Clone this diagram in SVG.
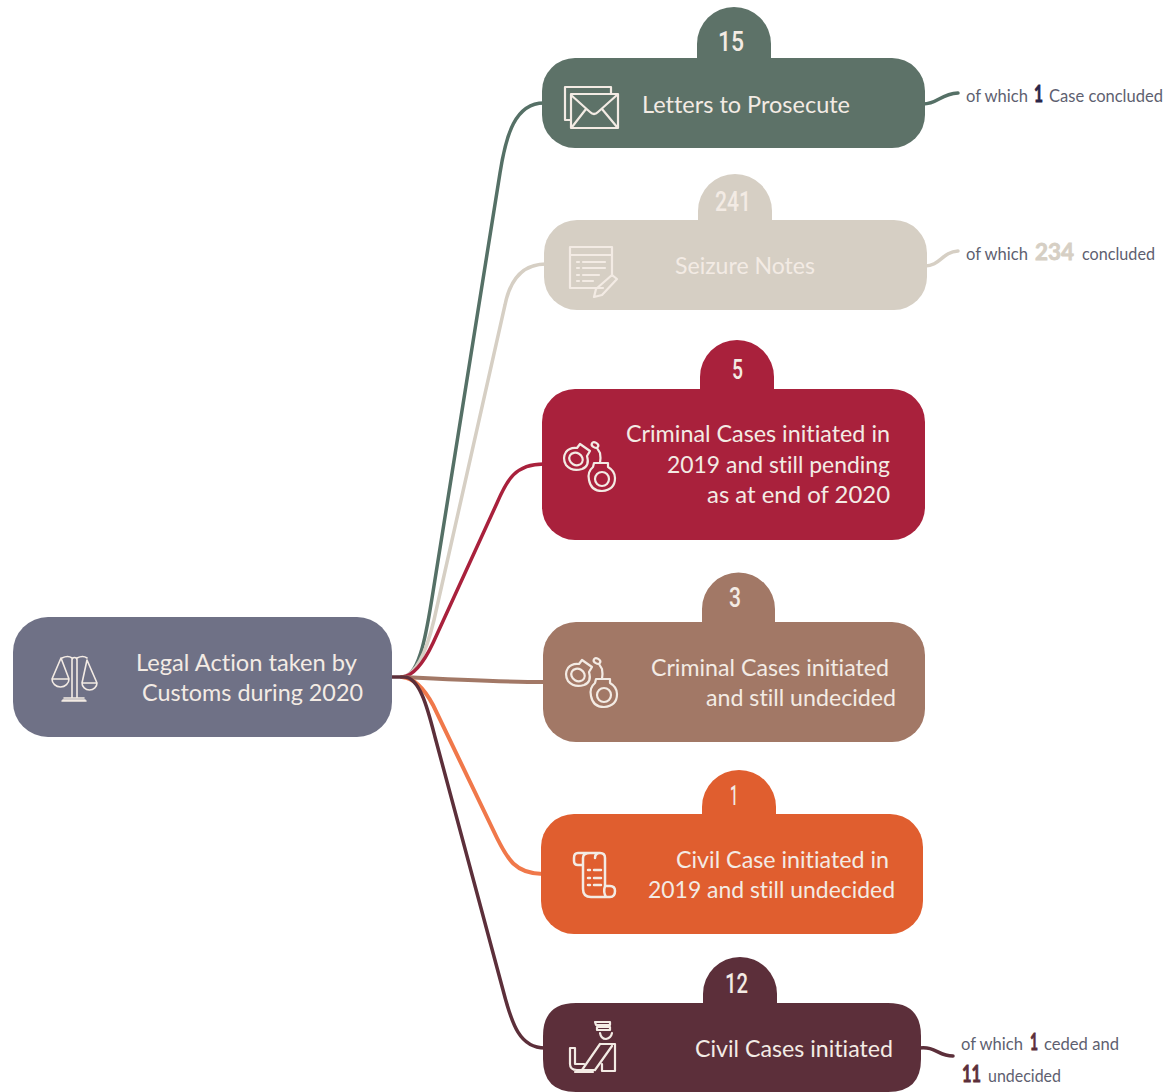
<svg xmlns="http://www.w3.org/2000/svg" xmlns:xlink="http://www.w3.org/1999/xlink" width="1168" height="1092" viewBox="0 0 1168 1092">
<style>
text{font-variant-ligatures:none}
.l{font-family:"Lato","Noto Sans",sans-serif;font-size:23px;fill:#f3ebe4}
.n{font-family:"Roboto","Liberation Sans",sans-serif;font-size:28px;font-weight:500;fill:#f3ebe4}
.s{font-family:"Lato","Noto Sans",sans-serif;font-size:17px;fill:#5e5f70}
.b{font-family:"Lato","Noto Sans",sans-serif;font-size:22px;font-weight:700;fill:#2a2548;stroke:#2a2548;stroke-width:.8}
.i{fill:none;stroke:#f3ebe4;stroke-width:2.2;stroke-linejoin:round;stroke-linecap:round}
.c{fill:none;stroke-width:3.5;stroke-linecap:round}
</style>
<defs>
<g id="cuffs">
<path d="M566 452Q570 447 577 448L580 444L590 451L587 456Q590 466 582 469Q572 472 566 465Q562 458 566 452Z"/>
<ellipse cx="576" cy="459" rx="7" ry="6" transform="rotate(30 576 459)"/>
<ellipse cx="595" cy="445" rx="3.500" ry="2.500" transform="rotate(30 595 445)"/>
<path d="M597 448L600 453Q601 458 600 463"/>
<path d="M594 463L593 467Q587 472 589 480Q591 491 602 491Q615 490 615 478Q615 471 608 467L608 463Z"/>
<circle cx="602" cy="479" r="7"/>
</g>
</defs>
<rect width="1168" height="1092" fill="#fff"/>
<g id="connectors">
<path class="c" stroke="#557066" d="M404 677C420 674 427 630 433 592L500 173C506 135 515 103 544 103"/>
<path class="c" stroke="#d6cfc4" d="M402 677C418 675 428 645 434 620L505 305C510 280 522 264 546 264"/>
<path class="c" stroke="#a9213c" d="M402 677C415 676 425 660 433 643L497 503C507 480 515 464 544 464"/>
<path class="c" stroke="#a27866" style="stroke-width:4" d="M402 677C440 679 500 682 545 682"/>
<path class="c" stroke="#f0784a" style="stroke-width:4" d="M402 677C415 678 425 690 433 705L497 838C507 858 515 874 543 874"/>
<path class="c" stroke="#5c2f3a" d="M390 677H404C420 677 428 710 435 737L503 990C512 1025 520 1048 545 1048"/>
<path class="c" stroke="#557066" d="M923 104C938 104 940 94 958 93"/>
<path class="c" stroke="#d6cfc4" d="M925 266C940 266 942 252 958 251"/>
<path class="c" stroke="#5c2f3a" d="M919 1048C936 1046 938 1056 953 1056"/>
</g>
<g id="root">
<rect x="13" y="617" width="379" height="120" rx="35" fill="#6f7186"/>
<g class="i" style="stroke-width:1.6">
<path d="M72 697V660a2.500 2.500 0 0 1 5 0V697M62 701h24M64 698h20M63 700h22"/>
<path d="M62 658q6-3 10 0M77 658q6-3 10 0"/>
<path d="M61 658L52 679M61 658L69 679M52 679h17a8.500 8 0 0 1-17 0"/>
<path d="M87 660L82 683M87 660L97 683M82 683h15a7.500 7 0 0 1-15 0"/>
</g>
<text class="l" x="136" y="671" textLength="221" lengthAdjust="spacingAndGlyphs">Legal Action taken by</text>
<text class="l" x="142" y="701" textLength="221" lengthAdjust="spacingAndGlyphs">Customs during 2020</text>
</g>
<g id="node-letters" fill="#5d7268">
<path d="M697 60V44A37 37 0 0 1 771 44V60Z"/>
<rect x="542" y="58" width="383" height="90" rx="33"/>
<text class="n" x="718" y="51" textLength="26" lengthAdjust="spacingAndGlyphs">15</text>
<g class="i"><path d="M571 120H565V87H611V94"/><rect x="571" y="94" width="47" height="34"/><path d="M571 95L590 112Q594 116 598 112L617 95M572 127L586 109M617 127L602 109"/></g>
<text class="l" x="642" y="113" textLength="208" lengthAdjust="spacingAndGlyphs">Letters to Prosecute</text>
<text class="s" x="966" y="102" textLength="62" lengthAdjust="spacingAndGlyphs">of which</text>
<text class="b" x="1034" y="102" textLength="9" lengthAdjust="spacingAndGlyphs">1</text>
<text class="s" x="1049" y="102" textLength="114" lengthAdjust="spacingAndGlyphs">Case concluded</text>
</g>
<g id="node-seizure" fill="#d6cfc4">
<path d="M698 222V211A37 37 0 0 1 772 211V222Z"/>
<rect x="544" y="220" width="383" height="90" rx="33"/>
<text class="n" x="715" y="211" textLength="36" lengthAdjust="spacingAndGlyphs">241</text>
<g class="i"><path d="M603 288H570V247H612V276M570 255H612M577 262h2M583 262h22M577 268h2M583 268h22M577 275h2M583 275h16M577 281h2M583 281h10"/><path d="M612 275l5 4-15 16-8 2 2-8z"/></g>
<text class="l" x="675" y="274" textLength="140" lengthAdjust="spacingAndGlyphs">Seizure Notes</text>
<text class="s" x="966" y="260" textLength="62" lengthAdjust="spacingAndGlyphs">of which</text>
<text class="b" x="1035" y="260" textLength="39" lengthAdjust="spacingAndGlyphs" style="fill:#d6cfc4;stroke:#d6cfc4">234</text>
<text class="s" x="1082" y="260" textLength="73" lengthAdjust="spacingAndGlyphs">concluded</text>
</g>
<g id="node-criminal-2019" fill="#a9213c">
<path d="M700 391V377A37 37 0 0 1 774 377V391Z"/>
<rect x="542" y="389" width="383" height="151" rx="33"/>
<text class="n" x="732" y="379" textLength="11" lengthAdjust="spacingAndGlyphs">5</text>
<use href="#cuffs" class="i"/>
<text class="l" x="626" y="442" textLength="264" lengthAdjust="spacingAndGlyphs">Criminal Cases initiated in</text>
<text class="l" x="667" y="473" textLength="223" lengthAdjust="spacingAndGlyphs">2019 and still pending</text>
<text class="l" x="707" y="503" textLength="183" lengthAdjust="spacingAndGlyphs">as at end of 2020</text>
</g>
<g id="node-criminal-undecided" fill="#a27866">
<path d="M702 624V609A36.500 36.500 0 0 1 775 609V624Z"/>
<rect x="543" y="622" width="382" height="120" rx="33"/>
<text class="n" x="729" y="607" textLength="12" lengthAdjust="spacingAndGlyphs">3</text>
<use href="#cuffs" class="i" transform="translate(2 216)"/>
<text class="l" x="651" y="676" textLength="238" lengthAdjust="spacingAndGlyphs">Criminal Cases initiated</text>
<text class="l" x="706" y="706" textLength="190" lengthAdjust="spacingAndGlyphs">and still undecided</text>
</g>
<g id="node-civil-2019" fill="#e05e2f">
<path d="M702 816V807A37 37 0 0 1 776 807V816Z"/>
<rect x="541" y="814" width="382" height="120" rx="33"/>
<text class="n" x="730" y="805" textLength="8" lengthAdjust="spacingAndGlyphs">1</text>
<g class="i" style="stroke-width:2.500"><path d="M600 853H578Q574 853 574 858V861Q574 865 578 865H583V889Q583 897 591 897H610Q615 897 615 891Q615 886 610 886H605V858Q605 853 600 853Q595 853 595 858M583 865V858Q583 853 590 853M605 886Q603 892 606 897M588 870h2M594 870h7M588 878h2M594 878h7M588 885h2M594 885h7"/></g>
<text class="l" x="676" y="868" textLength="213" lengthAdjust="spacingAndGlyphs">Civil Case initiated in</text>
<text class="l" x="648" y="898" textLength="247" lengthAdjust="spacingAndGlyphs">2019 and still undecided</text>
</g>
<g id="node-civil" fill="#5c2f3a">
<path d="M703 1005V994A37 37 0 0 1 777 994V1005Z"/>
<path d="M576 1003H888Q921 1003 921 1036V1059Q921 1092 888 1092H576Q543 1092 543 1059V1036Q543 1003 576 1003Z"/>
<text class="n" x="725" y="993" textLength="23" lengthAdjust="spacingAndGlyphs">12</text>
<g class="i"><path d="M595 1022H610V1025H596ZM597 1027H610V1030H597ZM600 1033Q601 1039 606 1039Q611 1038 612 1033M600 1044H615V1071H602V1064M600 1044L582 1070M612 1046L595 1070M570 1048V1064Q570 1070 577 1070H595M575 1048H570M575 1048V1064H584M575 1072H593"/></g>
<text class="l" x="695" y="1057" textLength="198" lengthAdjust="spacingAndGlyphs">Civil Cases initiated</text>
<text class="s" x="961" y="1050" textLength="62" lengthAdjust="spacingAndGlyphs">of which</text>
<text class="b" x="1030" y="1050" textLength="8" lengthAdjust="spacingAndGlyphs" style="fill:#5c2f3a;stroke:#5c2f3a">1</text>
<text class="s" x="1044" y="1050" textLength="75" lengthAdjust="spacingAndGlyphs">ceded and</text>
<text class="b" x="962" y="1082" textLength="19" lengthAdjust="spacingAndGlyphs" style="fill:#5c2f3a;stroke:#5c2f3a">11</text>
<text class="s" x="988" y="1082" textLength="73" lengthAdjust="spacingAndGlyphs">undecided</text>
</g>
</svg>
